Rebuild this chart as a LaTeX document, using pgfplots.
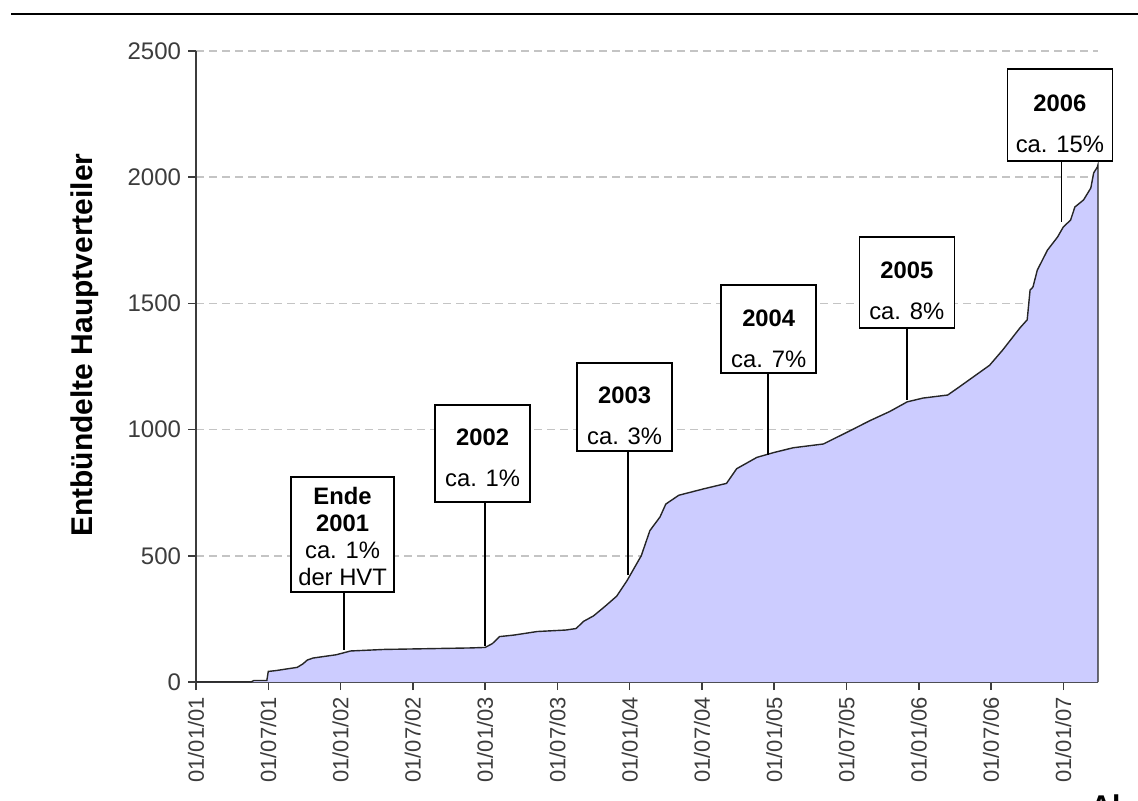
\documentclass[border=0pt]{standalone}
\usepackage{pgfplots}
\pgfplotsset{compat=1.18}
\usepackage{pgfplotstable}
\usepackage{fontspec}
\setmainfont{Liberation Sans}
\definecolor{fillc}{HTML}{CCCCFF}
\definecolor{tickc}{HTML}{3C3C3C}
\definecolor{gridc}{HTML}{C4C4C4}
\pgfplotsset{layers/mylayers/.define layer set={axis background,axis grid,main,axis ticks,axis lines,axis tick labels,axis descriptions,axis foreground}{}}
\newcommand{\boxfont}{\fontsize{11.9}{13.5}\selectfont}

\pgfplotstableread{
x y
2001.00 0
2001.38 0
2001.40 6
2001.49 6
2001.50 42
2001.55 45
2001.63 52
2001.70 58
2001.74 72
2001.77 87
2001.81 95
2001.97 108
2002.07 123
2002.30 129
2002.60 132
2002.90 135
2003.00 137
2003.05 152
2003.10 180
2003.20 186
2003.36 200
2003.56 206
2003.63 212
2003.68 240
2003.75 262
2003.83 300
2003.91 340
2003.98 400
2004.01 430
2004.08 500
2004.14 600
2004.21 654
2004.25 705
2004.34 740
2004.51 765
2004.67 787
2004.74 845
2004.88 890
2004.99 908
2005.13 928
2005.34 943
2005.54 1000
2005.66 1035
2005.80 1072
2005.92 1110
2006.03 1125
2006.20 1137
2006.27 1165
2006.49 1255
2006.58 1315
2006.70 1403
2006.75 1435
2006.77 1553
2006.79 1565
2006.82 1632
2006.89 1711
2006.96 1763
2007.00 1803
2007.05 1830
2007.08 1882
2007.14 1910
2007.19 1957
2007.21 2017
2007.235 2040
2007.24 2050
2007.24 0
}\hvt

\begin{document}
\begin{tikzpicture}
\draw[line width=1pt] (5.5pt,393pt) -- (569pt,393pt);
\begin{axis}[
  set layers=mylayers,
  at={(98pt,59pt)}, anchor=south west,
  scale only axis, width=451pt, height=315.5pt,
  xmin=2001, xmax=2007.24, ymin=0, ymax=2500,
  axis x line*=bottom, axis y line*=left,
  axis line style={draw=tickc, line width=1pt, -},
  xtick={2001,2001.5,2002,2002.5,2003,2003.5,2004,2004.5,2005,2005.5,2006,2006.5,2007},
  xticklabels={01/01/01,01/07/01,01/01/02,01/07/02,01/01/03,01/07/03,01/01/04,01/07/04,01/01/05,01/07/05,01/01/06,01/07/06,01/01/07},
  xticklabel style={rotate=90, anchor=east, font=\fontsize{11}{12}\selectfont, text=tickc},
  ytick={0,500,1000,1500,2000,2500},
  yticklabel style={font=\fontsize{12}{13}\selectfont, text=tickc},
  /pgf/number format/assume math mode=true,
  /pgf/number format/1000 sep={},
  scaled y ticks=false,
  tick align=outside, major tick length=4pt,
  tick style={draw=tickc, line width=0.75pt},
  ymajorgrids, grid style={gridc, dash pattern=on 4pt off 2.5pt, line width=0.75pt},
  clip=false,
]
\addplot[fill=fillc, draw=black!85, line width=0.7pt] table[x=x,y=y] {\hvt};

% annotations
\draw[line width=0.75pt] (axis cs:2002.024,357) -- (axis cs:2002.024,127);
\node[draw, line width=0.75pt, fill=white, minimum width=51.5pt, minimum height=57.5pt, inner sep=0pt] at (axis cs:2002.014,584) {};
\node[align=center, font=\boxfont, inner sep=0pt] at (axis cs:2002.014,578) {\textbf{Ende}\\\textbf{2001}\\ca. 1\%\\der HVT};

\draw[line width=0.75pt] (axis cs:2003.0,713) -- (axis cs:2003.0,143);
\node[draw, line width=0.75pt, fill=white, minimum width=47.5pt, minimum height=48.5pt, inner sep=0pt] at (axis cs:2002.983,905) {};
\node[align=center, font=\boxfont, inner sep=0pt] at (axis cs:2002.983,889) {\textbf{2002}\\[7pt]ca. 1\%};

\draw[line width=0.75pt] (axis cs:2003.99,915) -- (axis cs:2003.99,424);
\node[draw, line width=0.75pt, fill=white, minimum width=47.5pt, minimum height=44pt, inner sep=0pt] at (axis cs:2003.965,1090) {};
\node[align=center, font=\boxfont, inner sep=0pt] at (axis cs:2003.965,1054) {\textbf{2003}\\[7pt]ca. 3\%};

\draw[line width=0.75pt] (axis cs:2004.958,1224) -- (axis cs:2004.958,899);
\node[draw, line width=0.75pt, fill=white, minimum width=47.5pt, minimum height=44pt, inner sep=0pt] at (axis cs:2004.962,1399) {};
\node[align=center, font=\boxfont, inner sep=0pt] at (axis cs:2004.962,1361) {\textbf{2004}\\[7pt]ca. 7\%};

\draw[line width=0.75pt] (axis cs:2005.92,1403) -- (axis cs:2005.92,1117);
\node[draw, line width=0.75pt, fill=white, minimum width=47.5pt, minimum height=45.5pt, inner sep=0pt] at (axis cs:2005.917,1583) {};
\node[align=center, font=\boxfont, inner sep=0pt] at (axis cs:2005.917,1551) {\textbf{2005}\\[7pt]ca. 8\%};

\draw[line width=0.75pt] (axis cs:2006.986,2064) -- (axis cs:2006.986,1822);
\node[draw, line width=0.75pt, fill=white, minimum width=52.5pt, minimum height=46pt, inner sep=0pt] at (axis cs:2006.976,2246) {};
\node[align=center, font=\boxfont, inner sep=0pt] at (axis cs:2006.976,2213) {\textbf{2006}\\[7pt]ca. 15\%};

\node[rotate=90, font=\bfseries\fontsize{15}{18}\selectfont] at (axis description cs:-0.123,0.534) {Entbündelte Hauptverteiler};
\end{axis}
\node[anchor=north west, inner sep=0pt, font=\bfseries\fontsize{15}{18}\selectfont] at (545pt,3pt) {Al};
\pgfresetboundingbox
\path[use as bounding box] (0,0) rectangle (569pt,400pt);
\end{tikzpicture}
\end{document}
